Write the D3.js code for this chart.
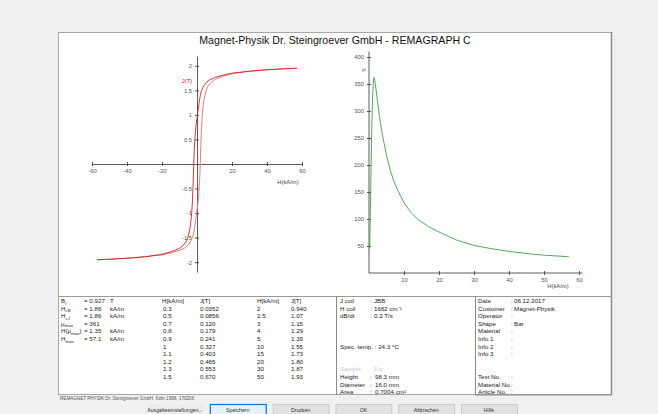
<!DOCTYPE html>
<html><head><meta charset="utf-8">
<script src="https://cdn.jsdelivr.net/npm/d3@7"></script>
<style>
body{margin:0;background:#f0f0f0;}
svg{display:block;font-family:"Liberation Sans",Arial,sans-serif;}
</style>
</head><body>
<svg id="c" width="658" height="414"></svg>
<script>
// ---------- data ----------
const title = "Magnet-Physik Dr. Steingroever GmbH - REMAGRAPH C";
// hysteresis loop, descending branch (from +Hmax to -Hmax)
const hDesc = [57.1, 50, 40, 30, 20, 15, 10, 7, 5, 4, 3, 2, 1.5, 1, 0.5, 0, -0.5, -1, -1.5, -1.86, -2.2, -2.6, -3, -3.5, -4, -5, -6, -8, -10, -15, -20, -30, -40, -50, -57.1];
const jDesc = [1.95, 1.94, 1.92, 1.89, 1.85, 1.81, 1.76, 1.71, 1.65, 1.60, 1.53, 1.42, 1.32, 1.20, 1.07, 0.93, 0.80, 0.62, 0.33, 0, -0.40, -0.76, -0.98, -1.17, -1.31, -1.47, -1.57, -1.66, -1.72, -1.79, -1.84, -1.89, -1.92, -1.94, -1.95];
// ascending branch (from -Hmax to +Hmax)
const hAsc = [-57.1, -50, -40, -30, -20, -15, -10, -7, -5, -4, -3, -2, -1.5, -1, -0.5, 0, 0.5, 1, 1.5, 1.86, 2.2, 2.6, 3, 3.5, 4, 5, 6, 8, 10, 15, 20, 30, 40, 50, 57.1];
const jAsc = [-1.95, -1.94, -1.92, -1.89, -1.85, -1.81, -1.76, -1.71, -1.65, -1.60, -1.53, -1.42, -1.32, -1.20, -1.07, -0.93, -0.80, -0.62, -0.33, 0, 0.40, 0.76, 0.98, 1.17, 1.31, 1.47, 1.57, 1.66, 1.72, 1.79, 1.84, 1.89, 1.92, 1.94, 1.95];
// permeability curve
const hMu = [0.2, 0.4, 0.6, 0.8, 1.0, 1.2, 1.4, 1.7, 2.0, 2.5, 3.0, 3.5, 4.0, 5.0, 6.0, 7.0, 8.0, 10, 12, 14, 17, 20, 25, 30, 35, 40, 45, 50, 55, 57.1];
const muVals = [45, 120, 200, 270, 320, 350, 362, 355, 340, 315, 290, 268, 250, 218, 192, 172, 156, 130, 112, 99, 86, 76, 61, 51, 45, 40, 36, 33, 31, 30];
// axis ticks
const loopHTicks = [-60, -40, -20, 20, 40, 60];
const loopJTicks = [-2, -1.5, -1, -0.5, 0.5, 1, 1.5, 2];
const muHTicks = [10, 20, 30, 40, 50, 60];
const muTicks = [50, 100, 150, 200, 250, 300, 350, 400];
// result table
const paramMain = ["B", "H", "H", "\u03bc", "H(\u03bc", "H"];
const paramSub = ["r", "cB", "cJ", "max", "max", "max"];
const paramTail = ["", "", "", "", ")", ""];
const paramVal = ["0.927", "1.86", "1.86", "361", "1.35", "57.1"];
const paramUnit = ["T", "kA/m", "kA/m", "", "kA/m", "kA/m"];
const tabH1 = ["0.3", "0.5", "0.7", "0.8", "0.9", "1", "1.1", "1.2", "1.3", "1.5"];
const tabJ1 = ["0.0352", "0.0856", "0.120", "0.179", "0.241", "0.327", "0.403", "0.465", "0.553", "0.670"];
const tabH2 = ["2", "2.5", "3", "4", "5", "10", "15", "20", "30", "50"];
const tabJ2 = ["0.940", "1.07", "1.15", "1.29", "1.39", "1.55", "1.73", "1.80", "1.87", "1.93"];
const coilLabels = ["J coil", "H coil", "dB/dt"];
const coilValues = ["JBB", "1662 cm\u207b\u00b9", "0.2 T/s"];
const tempLabel = "Spec. temp.";
const tempValue = "24.3 \u00b0C";
const sampleLabels = ["Height", "Diameter", "Area"];
const sampleValues = ["98.3 mm", "16.0 mm", "0.7004 cm\u00b2"];
const infoLabels = ["Date", "Customer", "Operator", "Shape", "Material", "Info 1", "Info 2", "Info 3"];
const infoValues = ["06.12.2017", "Magnet-Physik", "", "Bar", "", "", "", ""];
const idLabels = ["Test No.", "Material No.", "Article No."];
const footer = "REMAGNET PHYSIK Dr. Steingroever GmbH, K\u00f6ln 1998, 170206";
const buttons = ["Ausgabeeinstellungen...", "Speichern", "Drucken", "OK", "Abbrechen", "Hilfe"];

// ---------- drawing ----------
const svg = d3.select("#c");
const FONT = "Liberation Sans, Arial, sans-serif";

svg.append("rect").attr("width", 658).attr("height", 414).attr("fill", "#f0f0f0");
svg.append("rect").attr("x", 58.5).attr("y", 32.5).attr("width", 553).attr("height", 362)
  .attr("fill", "#fff").attr("stroke", "#a8a8a8");
svg.append("line").attr("x1", 611.5).attr("x2", 611.5).attr("y1", 32).attr("y2", 395).attr("stroke", "#8a8a8a").attr("stroke-width", 1.5);

svg.append("text").attr("x", 335).attr("y", 44).attr("text-anchor", "middle")
  .attr("font-size", 10.6).attr("fill", "#111").text(title);

function styleAxis(g, cross) {
  g.select(".domain").attr("stroke", "#333").attr("stroke-width", 0.8);
  g.selectAll(".tick line").attr("stroke", "#333").attr("stroke-width", 0.8);
  g.selectAll(".tick text").attr("fill", "#555").attr("font-size", 5.8).attr("font-family", FONT);
  if (cross === "x") g.selectAll(".tick line").attr("y1", -2);
  if (cross === "y") g.selectAll(".tick line").attr("x1", 2);
}

// left chart: hysteresis
const xL = d3.scaleLinear([-60, 60], [92, 302]);
const yL = d3.scaleLinear([-2.2, 2.2], [272, 56]);
const gxL = svg.append("g").attr("transform", `translate(0,${yL(0)})`)
  .call(d3.axisBottom(xL).tickValues(loopHTicks).tickSize(2).tickSizeOuter(0).tickPadding(3).tickFormat(d => String(d)));
styleAxis(gxL, "x");
const gyL = svg.append("g").attr("transform", `translate(${xL(0)},0)`)
  .call(d3.axisLeft(yL).tickValues(loopJTicks).tickSize(2).tickSizeOuter(0).tickPadding(3).tickFormat(d => String(d)));
styleAxis(gyL, "y");
svg.append("text").attr("x", xL(52)).attr("y", yL(0) + 20).attr("text-anchor", "middle")
  .attr("font-size", 5.8).attr("fill", "#444").text("H(kA/m)");
svg.append("text").attr("x", xL(0) - 10).attr("y", yL(1.7) + 2).attr("text-anchor", "middle")
  .attr("font-size", 6).attr("fill", "#e02020").text("J(T)");

const lineL = d3.line().x(d => xL(d[0])).y(d => yL(d[1]));
svg.append("path").datum(hAsc.map((h, i) => [h, jAsc[i]]))
  .attr("d", lineL).attr("fill", "none").attr("stroke", "#f07a7a").attr("stroke-width", 1);
svg.append("path").datum(hDesc.map((h, i) => [h, jDesc[i]]))
  .attr("d", lineL).attr("fill", "none").attr("stroke", "#d42020").attr("stroke-width", 0.9);

// right chart: permeability
const xR = d3.scaleLinear([0, 60], [369, 579]);
const yR = d3.scaleLinear([0, 400], [273, 57]);
const gxR = svg.append("g").attr("transform", `translate(0,${yR(0)})`)
  .call(d3.axisBottom(xR).tickValues(muHTicks).tickSize(2).tickSizeOuter(0).tickPadding(3));
styleAxis(gxR, "x");
const gyR = svg.append("g").attr("transform", `translate(${xR(0)},0)`)
  .call(d3.axisLeft(yR).tickValues(muTicks).tickSize(2).tickSizeOuter(0).tickPadding(3));
styleAxis(gyR, "y");
gyR.select(".domain").attr("d", `M0,${yR(0)}V${yR(410)}`);
gxR.select(".domain").attr("d", `M${xR(0)},0H${xR(61)}`);
svg.append("text").attr("x", xR(0) - 5).attr("y", yR(375)).attr("text-anchor", "middle")
  .attr("font-size", 6).attr("fill", "#555").text("\u03bc");
svg.append("text").attr("x", xR(54)).attr("y", yR(0) + 15).attr("text-anchor", "middle")
  .attr("font-size", 5.8).attr("fill", "#444").text("H(kA/m)");
const lineR = d3.line().x(d => xR(d[0])).y(d => yR(d[1]));
svg.append("path").datum(hMu.map((h, i) => [h, muVals[i]]))
  .attr("d", lineR).attr("fill", "none").attr("stroke", "#3f9f45").attr("stroke-width", 0.9);

// ---------- table ----------
const tTop = 296, tBot = 394;
svg.append("line").attr("x1", 58).attr("x2", 612).attr("y1", tTop + 0.5).attr("y2", tTop + 0.5).attr("stroke", "#9a9a9a");
[336.5, 475.5].forEach(x => svg.append("line").attr("x1", x).attr("x2", x).attr("y1", tTop).attr("y2", tBot + 1).attr("stroke", "#8a8a8a"));
svg.append("line").attr("x1", 475).attr("x2", 612).attr("y1", tBot + 1).attr("y2", tBot + 1).attr("stroke", "#8a8a8a");

const rowY = i => 303 + i * 7.6;
const FS = 6.2;
const tg = svg.append("g").attr("font-size", FS).attr("fill", "#222");
function txt(x, y, s, fill) {
  return tg.append("text").attr("x", x).attr("y", y).attr("fill", fill || "#222").text(s);
}
paramMain.forEach((m, i) => {
  const t = tg.append("text").attr("x", 61).attr("y", rowY(i));
  t.append("tspan").text(m);
  t.append("tspan").attr("font-size", 4.4).attr("dy", 1.5).text(paramSub[i]);
  if (paramTail[i]) t.append("tspan").attr("dy", -1.5).text(paramTail[i]);
  txt(84, rowY(i), "= " + paramVal[i]);
  txt(110, rowY(i), paramUnit[i]);
});
txt(162, rowY(0), "H[kA/m]");
txt(200, rowY(0), "J[T]");
txt(257, rowY(0), "H[kA/m]");
txt(291, rowY(0), "J[T]");
tabH1.forEach((v, i) => txt(163, rowY(i + 1), v));
tabJ1.forEach((v, i) => txt(200, rowY(i + 1), v));
tabH2.forEach((v, i) => txt(257, rowY(i + 1), v));
tabJ2.forEach((v, i) => txt(291, rowY(i + 1), v));

coilLabels.forEach((l, i) => { txt(340, rowY(i), l); txt(370, rowY(i), ":"); txt(374, rowY(i), coilValues[i]); });
txt(340, rowY(6), tempLabel + " : " + tempValue);
txt(340, rowY(9), "Sample", "#c8c8c8"); txt(374, rowY(9), "Bar", "#d8d8d8");
sampleLabels.forEach((l, i) => { txt(340, rowY(10 + i), l); txt(370, rowY(10 + i), ":"); txt(375, rowY(10 + i), sampleValues[i]); });

infoLabels.forEach((l, i) => { txt(478, rowY(i), l); txt(511, rowY(i), ":"); txt(514, rowY(i), infoValues[i]); });
idLabels.forEach((l, i) => { txt(478, rowY(10 + i), l); txt(511, rowY(10 + i), ":"); });

svg.append("text").attr("x", 60).attr("y", 400).attr("font-size", 4.6).attr("fill", "#555").text(footer);

// ---------- buttons ----------
const bx = d3.scaleBand().domain(buttons).range([147, 517]).paddingInner(0.11);
const bg = svg.append("g");
buttons.forEach((b, i) => {
  const sel = i === 1;
  bg.append("rect").attr("x", bx(b) + 0.5).attr("y", 404.5).attr("width", bx.bandwidth()).attr("height", 14)
    .attr("fill", sel ? "#e5f1fb" : (i === 0 ? "#ececec" : "#e1e1e1"))
    .attr("stroke", sel ? "#0078d7" : (i === 0 ? "none" : "#c4c4c4")).attr("stroke-width", sel ? 1.2 : 0.8);
  bg.append("text").attr("x", bx(b) + bx.bandwidth() / 2).attr("y", 411.5).attr("text-anchor", "middle")
    .attr("font-size", 5.2).attr("fill", "#333").text(b);
});
</script>
</body></html>
